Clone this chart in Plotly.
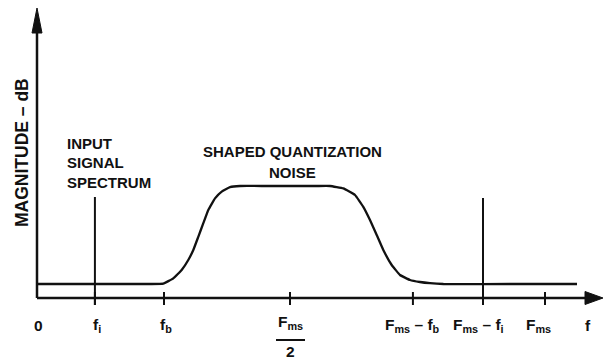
import plotly.graph_objects as go

# ---------------- data (normalised frequency f/Fms, magnitude in arbitrary dB) -------------
noise_f = [0.0, 0.10, 0.2224, 0.2486, 0.2683, 0.2848, 0.2978, 0.3077, 0.3175, 0.3274, 0.3372,
           0.3504, 0.3636, 0.3799, 0.3996, 0.45, 0.50, 0.55, 0.5768, 0.6030, 0.6260, 0.6423,
           0.6555, 0.6687, 0.6817, 0.6982, 0.7146, 0.7343, 0.7539, 0.7736, 0.80, 0.95, 1.063]
noise_mag = [3.5, 3.5, 3.5, 3.6, 4.9, 7.0, 9.5, 12.0, 15.3, 18.7, 22.0,
             24.9, 26.6, 27.7, 28.0, 28.0, 28.0, 28.0, 28.0, 27.4, 25.75, 22.8,
             19.5, 15.75, 12.0, 8.25, 5.75, 4.5, 4.0, 3.7, 3.5, 3.5, 3.5]

signal_f = [0.114, 0.878]
signal_mag = [25.25, 25.0]

tick_f = [0.114, 0.25, 0.498, 0.740, 0.878, 1.0]
tick_text = ["f<sub>i</sub>", "f<sub>b</sub>", "F<sub>ms</sub>",
             "F<sub>ms</sub> – f<sub>b</sub>", "F<sub>ms</sub> – f<sub>i</sub>", "F<sub>ms</sub>"]
tick_label_shift = [2, 2, 1, 0, -5, -7]

# ---------------- layout constants ----------------
W, H = 613, 360
X0_PX, PX_PER_F = 37, 508          # pixel of f=0, pixels per unit f
Y0_PX, PX_PER_DB = 298, 4          # pixel of 0 dB, pixels per dB
XMAX = 1.1142                      # end of frequency axis (arrow tip)
YMAX = 72.5                        # end of magnitude axis (arrow tip)

def fx(px):   # pixel width -> f units
    return px / PX_PER_F

def my(px):   # pixel height -> dB units
    return px / PX_PER_DB

x_range = [-X0_PX / PX_PER_F, (W - X0_PX) / PX_PER_F]
y_range = [(Y0_PX - H) / PX_PER_DB, Y0_PX / PX_PER_DB]

BLACK = "#111111"
FONT = "Liberation Sans, Arial, Helvetica, sans-serif"

fig = go.Figure()

# axes lines
fig.add_trace(go.Scatter(x=[0, 0], y=[0, YMAX - my(20)], mode="lines",
                         line=dict(color=BLACK, width=2.5), hoverinfo="skip"))
fig.add_trace(go.Scatter(x=[0, XMAX - fx(14)], y=[0, 0], mode="lines",
                         line=dict(color=BLACK, width=2.5), hoverinfo="skip"))
# arrow heads
fig.add_trace(go.Scatter(x=[-fx(5), 0, fx(5), -fx(5)],
                         y=[YMAX - my(25), YMAX, YMAX - my(25), YMAX - my(25)],
                         mode="lines", fill="toself", fillcolor=BLACK,
                         line=dict(color=BLACK, width=1), hoverinfo="skip"))
fig.add_trace(go.Scatter(x=[XMAX - fx(18), XMAX, XMAX - fx(18), XMAX - fx(18)],
                         y=[my(6.5), 0, -my(6.5), my(6.5)],
                         mode="lines", fill="toself", fillcolor=BLACK,
                         line=dict(color=BLACK, width=1), hoverinfo="skip"))

# tick marks crossing the axis
tx, ty = [], []
for f in tick_f:
    tx += [f, f, None]
    ty += [my(6), -my(7), None]
fig.add_trace(go.Scatter(x=tx, y=ty, mode="lines",
                         line=dict(color=BLACK, width=2), hoverinfo="skip"))

# shaped quantization noise + baseline
fig.add_trace(go.Scatter(x=noise_f, y=noise_mag, mode="lines",
                         line=dict(color=BLACK, width=2.3, shape="spline", smoothing=0.3),
                         hoverinfo="skip"))

# spectral lines
sx, sy = [], []
for f, m in zip(signal_f, signal_mag):
    sx += [f, f, None]
    sy += [-my(7), m, None]
fig.add_trace(go.Scatter(x=sx, y=sy, mode="lines",
                         line=dict(color=BLACK, width=2), hoverinfo="skip"))

annotations = []
def txt(x, y, s, size=15, xanchor="center", xshift=0, textangle=0):
    annotations.append(dict(x=x, y=y, xref="x", yref="y", text=s, showarrow=False,
                            xanchor=xanchor, yanchor="middle", xshift=xshift,
                            textangle=textangle,
                            font=dict(family=FONT, size=size, color=BLACK)))

# tick labels
label_y = -my(27)
txt(0, label_y, "<b>0</b>", xshift=1, size=15.5)
for f, s, sh in zip(tick_f, tick_text, tick_label_shift):
    if s == "F<sub>ms</sub>" and f < 0.6:
        txt(f, -my(24), "<b>" + s + "</b>", xshift=sh, size=15.5)
        txt(f, -my(53), "<b>2</b>", xshift=sh, size=15.5)
    else:
        txt(f, label_y, "<b>" + s + "</b>", xshift=sh, size=15.5)
txt(XMAX - fx(15), label_y, "<b>f</b>", size=15.5)

# fraction bar for Fms/2
half = tick_f[2]
fig.add_shape(type="line", x0=half - fx(14), x1=half + fx(15),
              y0=-my(42), y1=-my(42), xref="x", yref="y",
              line=dict(color=BLACK, width=2))

# y-axis title
txt(-fx(15), my(Y0_PX - 153), "<b>MAGNITUDE – dB</b>", size=17.5, textangle=-90)

# INPUT SIGNAL SPECTRUM
txt(fx(28), my(Y0_PX - 143), "<b>INPUT</b>", xanchor="left")
txt(fx(28), my(Y0_PX - 162), "<b>SIGNAL</b>", xanchor="left")
txt(fx(28), my(Y0_PX - 182), "<b>SPECTRUM</b>", xanchor="left")

# SHAPED QUANTIZATION NOISE
txt(fx(292 - X0_PX), my(Y0_PX - 151), "<b>SHAPED QUANTIZATION</b>")
txt(fx(292 - X0_PX), my(Y0_PX - 172), "<b>NOISE</b>")

fig.update_layout(
    width=W, height=H, autosize=False,
    margin=dict(l=0, r=0, t=0, b=0, pad=0),
    paper_bgcolor="white", plot_bgcolor="white",
    showlegend=False,
    xaxis=dict(range=x_range, visible=False, fixedrange=True),
    yaxis=dict(range=y_range, visible=False, fixedrange=True),
    annotations=annotations,
)

fig.write_html("out.html", config={"displayModeBar": False})
